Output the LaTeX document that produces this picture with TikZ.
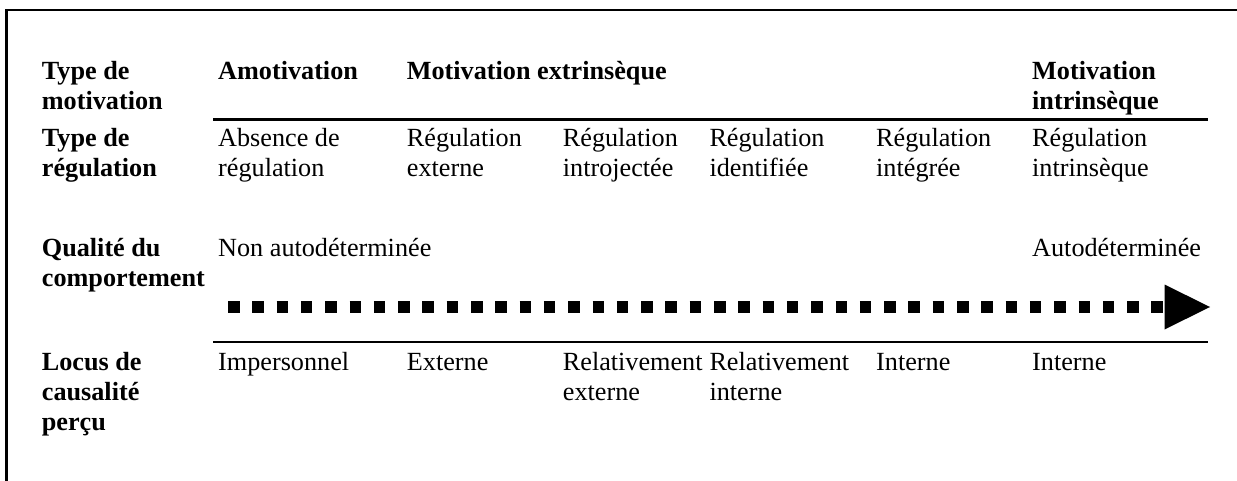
\documentclass[tikz,border=0pt]{standalone}
\usepackage{fontspec}
\setmainfont{Liberation Serif}
\newcommand\twolines[2]{\vtop{\hbox{#1}\hbox{#2}}}
\newcommand\threelines[3]{\vtop{\hbox{#1}\hbox{#2}\hbox{#3}}}
\begin{document}
\begin{tikzpicture}[x=1pt,y=-1pt,
  cell/.style={anchor=base west, inner sep=0pt, font=\fontsize{26.2}{30}\selectfont},
  head/.style={anchor=base west, inner sep=0pt, font=\fontsize{26.2}{30}\selectfont\bfseries},
  frameline/.style={line width=2.6pt, line join=miter},
  rule/.style={line width=2.2pt},
  scalebar/.style={line width=11.5pt, dash pattern=on 11.5pt off 12.8pt}]
\useasboundingbox (0,0) rectangle (1237,481);
% frame
\draw[frameline] (6.7,481) -- (6.7,10) -- (1237,10);
% rules
\coordinate (ra) at (213,119.5);
\coordinate (rb) at (1208,119.5);
\coordinate (rc) at (213,341.7);
\coordinate (rd) at (1208,341.7);
\draw[rule] (ra) -- (rb);
\draw[rule] (rc) -- (rd);
% row 1
\node[head] (l1) at (41.7,80) {\twolines{Type de}{motivation}};
\node[head] (amot) at (218,80) {Amotivation};
\node[head] (mext) at (406.7,80) {Motivation extrinsèque};
\node[head] (mint) at (1032,80) {\twolines{Motivation}{intrinsèque}};
% row 2
\node[head] (l2) at (41.7,147) {\twolines{Type de}{régulation}};
\node[cell] (r1) at (218,147) {\twolines{Absence de}{régulation}};
\node[cell] (r2) at (406.7,147) {\twolines{Régulation}{externe}};
\node[cell] (r3) at (562.7,147) {\twolines{Régulation}{introjectée}};
\node[cell] (r4) at (709.3,147) {\twolines{Régulation}{identifiée}};
\node[cell] (r5) at (876,147) {\twolines{Régulation}{intégrée}};
\node[cell] (r6) at (1032,147) {\twolines{Régulation}{intrinsèque}};
% row 3
\node[head] (l3) at (41.7,257) {\twolines{Qualité du}{comportement}};
\node[cell] (q1) at (218,257) {Non autodéterminée};
\node[cell] (q6) at (1032,257) {Autodéterminée};
% scale arrow
\coordinate (as) at (228,307);
\coordinate (ae) at (1163,307);
\coordinate (at) at (1210,307);
\draw[scalebar] (as) -- (ae);
\fill (1164.5,284.5) -- (at) -- (1164.5,329.5) -- cycle;
% row 4
\node[head] (l4) at (41.7,370) {\threelines{Locus de}{causalité}{perçu}};
\node[cell] (p1) at (218,370) {Impersonnel};
\node[cell] (p2) at (406.7,370) {Externe};
\node[cell] (p3) at (562.7,370) {\twolines{Relativement}{externe}};
\node[cell] (p4) at (709.3,370) {\twolines{Relativement}{interne}};
\node[cell] (p5) at (876,370) {Interne};
\node[cell] (p6) at (1032,370) {Interne};
\end{tikzpicture}
\end{document}
